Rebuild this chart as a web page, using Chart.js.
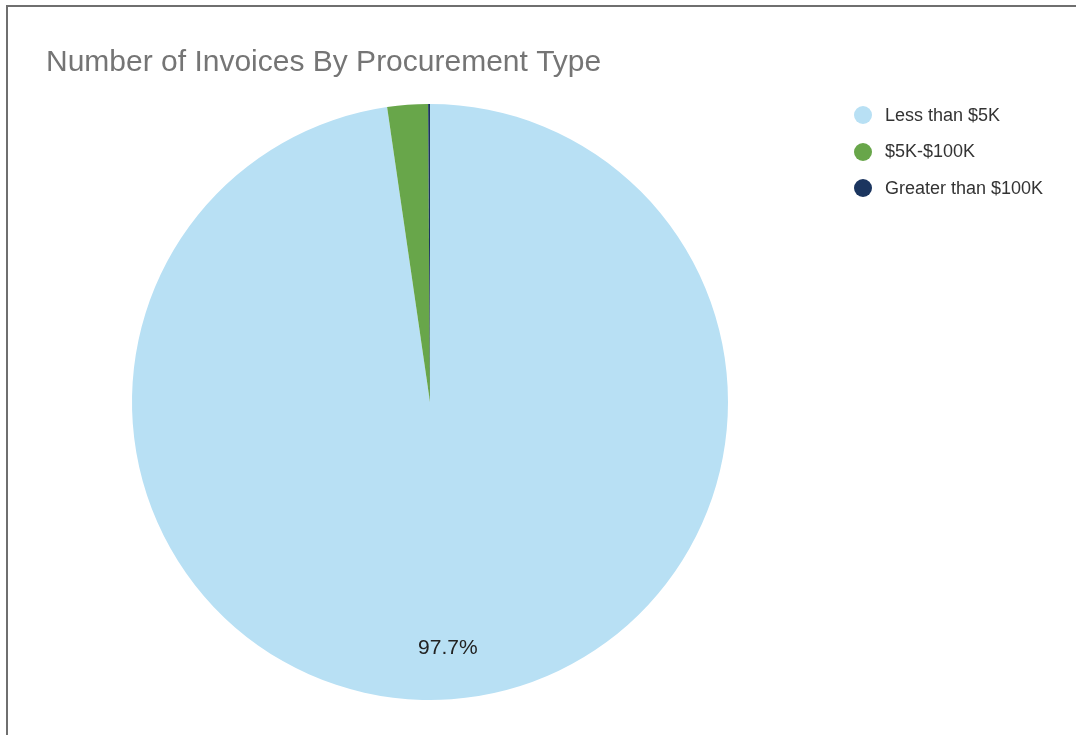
<!DOCTYPE html>
<html>
<head>
<meta charset="utf-8">
<title>Number of Invoices By Procurement Type</title>
<script src="https://cdn.jsdelivr.net/npm/chart.js@4.4.1/dist/chart.umd.min.js"></script>
<style>
  html, body { margin: 0; padding: 0; background: #fff; overflow: hidden; }
  body { width: 1076px; height: 735px; position: relative; font-family: "Liberation Sans", Arial, sans-serif; }
  #frame { position: absolute; left: 6px; top: 5px; width: 1200px; height: 900px; border-top: 2px solid #6f6f6f; border-left: 2px solid #6f6f6f; }
  #wrap { position: absolute; left: 0; top: 0; width: 1076px; height: 735px; }
  #legend { position: absolute; left: 854px; top: 106px; list-style: none; margin: 0; padding: 0; }
  #legend li { display: flex; align-items: center; height: 18px; margin-bottom: 18.5px; font-size: 18px; color: #333; white-space: nowrap; }
  #legend .dot { width: 18px; height: 18px; border-radius: 50%; margin-right: 13px; flex: none; }
</style>
</head>
<body>
<div id="frame"></div>
<div id="wrap"><canvas id="chart1"></canvas></div>
<ul id="legend"></ul>
<script>
var categories = ["Less than $5K", "$5K-$100K", "Greater than $100K"];
var invoiceShare = [97.7, 2.2, 0.1];
var sliceColors = ["#b8e0f4", "#68a64a", "#1b355f"];

// percentage label on the big slice only
var sliceLabels = {
  id: "sliceLabels",
  afterDatasetsDraw: function(chart) {
    var ctx = chart.ctx;
    var meta = chart.getDatasetMeta(0);
    var data = chart.data.datasets[0].data;
    var total = data.reduce(function(a, b) { return a + b; }, 0);
    meta.data.forEach(function(arc, i) {
      var pct = data[i] / total * 100;
      if (pct < 10) return;
      var p = arc.getProps(["x", "y", "startAngle", "endAngle", "outerRadius"], true);
      var mid = (p.startAngle + p.endAngle) / 2;
      var r = p.outerRadius * 0.83;
      ctx.save();
      ctx.font = "21px 'Liberation Sans', Arial, sans-serif";
      ctx.fillStyle = "#222";
      ctx.textAlign = "center";
      ctx.textBaseline = "middle";
      ctx.fillText(pct.toFixed(1) + "%", p.x + Math.cos(mid) * r, p.y + Math.sin(mid) * r);
      ctx.restore();
    });
  }
};

// legend as html, built from the chart's own legend items
var htmlLegend = {
  id: "htmlLegend",
  afterUpdate: function(chart) {
    var ul = document.getElementById("legend");
    ul.innerHTML = "";
    var items = chart.options.plugins.legend.labels.generateLabels(chart);
    items.forEach(function(item) {
      var li = document.createElement("li");
      var dot = document.createElement("span");
      dot.className = "dot";
      dot.style.background = item.fillStyle;
      li.appendChild(dot);
      li.appendChild(document.createTextNode(item.text));
      ul.appendChild(li);
    });
  }
};

var chart1 = new Chart(document.getElementById("chart1"), {
  type: "pie",
  data: {
    labels: categories,
    datasets: [{
      label: "Number of Invoices",
      data: invoiceShare,
      backgroundColor: sliceColors,
      borderWidth: 0
    }]
  },
  options: {
    responsive: true,
    maintainAspectRatio: false,
    animation: false,
    layout: {
      padding: { left: 46, right: 262, top: 0, bottom: 35 }
    },
    plugins: {
      title: {
        display: true,
        text: "Number of Invoices By Procurement Type",
        align: "start",
        color: "#757575",
        font: { family: "'Liberation Sans', Arial, sans-serif", size: 30, weight: "normal" },
        padding: { top: 45, bottom: 23 }
      },
      legend: { display: false },
      tooltip: { enabled: false }
    }
  },
  plugins: [sliceLabels, htmlLegend]
});
</script>
</body>
</html>
